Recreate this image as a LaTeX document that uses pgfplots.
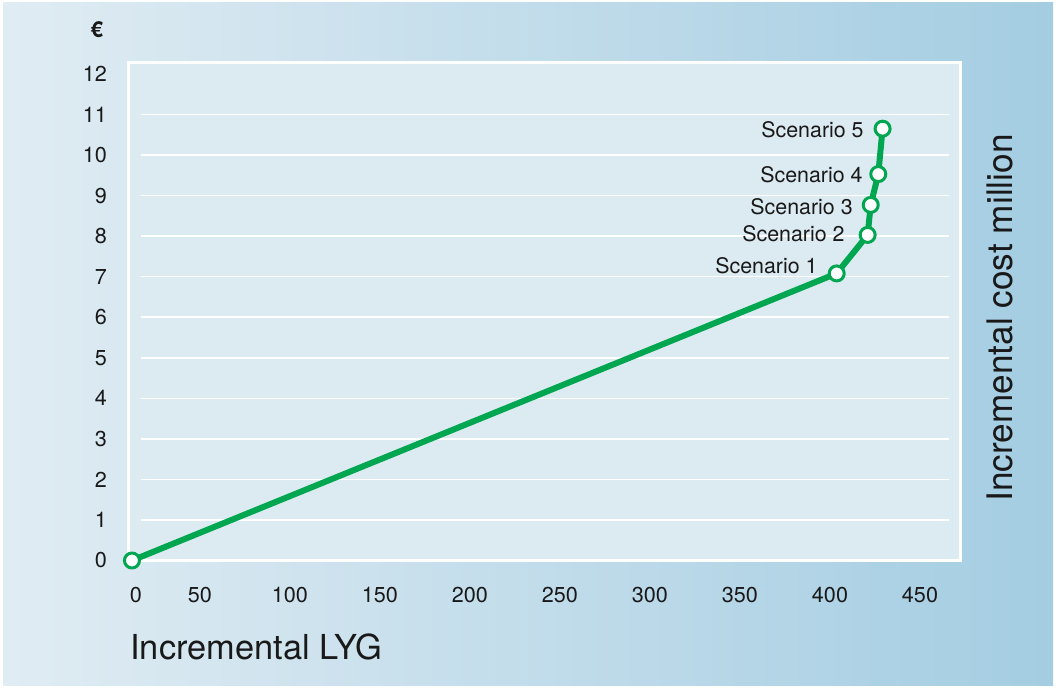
\documentclass[border=0pt]{standalone}
\usepackage{fontspec}
\setmainfont{TeX Gyre Heros}
\usepackage{pgfplots}
\pgfplotsset{compat=1.18}
\definecolor{bgL}{RGB}{224,236,243}
\definecolor{bgR}{RGB}{164,205,226}
\definecolor{plotbg}{RGB}{220,234,241}
\definecolor{lgreen}{RGB}{0,166,80}
\definecolor{txt}{RGB}{25,25,25}
\begin{document}
\begin{tikzpicture}[x=1pt,y=1pt]
\fill[white] (0,0) rectangle (528,344.5);
\shade[left color=bgL, right color=bgR] (1.5,1.5) rectangle (526.5,343);
\begin{axis}[
  at={(64pt,64.25pt)}, anchor=south west,
  scale only axis, width=416pt, height=248.75pt,
  xmin=-2.2, xmax=460, ymin=0, ymax=12.27,
  axis background/.style={fill=plotbg},
  axis line style={white, line width=1.5pt},
  major tick length=0pt,
  clip=false,
  /pgf/number format/assume math mode=true,
  xtick={50,100,...,450},
  extra x ticks={0},
  extra x tick style={xticklabel style={xshift=13pt}},
  ytick={0,1,...,12},
  xticklabel style={anchor=center, yshift=-17.25pt, xshift=-11pt, font=\fontsize{10.8}{12}\selectfont, text=txt},
  yticklabel style={anchor=east, xshift=-7pt, font=\fontsize{10.8}{12}\selectfont, text=txt},
]
\pgfplotsinvokeforeach{1,...,11}{\draw[white, line width=0.75pt] (axis cs:5,#1) -- (axis cs:454,#1);}
\addplot[lgreen, line width=3pt, line join=round, mark=*, mark size=3.75pt,
  mark options={fill=white, draw=lgreen, line width=1.5pt}] table {
x y
0 0
391.5 7.08
408.7 8.03
410.4 8.77
414.6 9.53
417.0 10.65
};
\node[anchor=east, inner sep=0pt, text=txt, font=\fontsize{10.7}{12}\selectfont] at (axis cs:381.1,7.26) {Scenario 1};
\node[anchor=east, inner sep=0pt, text=txt, font=\fontsize{10.7}{12}\selectfont] at (axis cs:396.1,8.05) {Scenario 2};
\node[anchor=east, inner sep=0pt, text=txt, font=\fontsize{10.7}{12}\selectfont] at (axis cs:400.6,8.72) {Scenario 3};
\node[anchor=east, inner sep=0pt, text=txt, font=\fontsize{10.7}{12}\selectfont] at (axis cs:406.1,9.51) {Scenario 4};
\node[anchor=east, inner sep=0pt, text=txt, font=\fontsize{10.7}{12}\selectfont] at (axis cs:406.7,10.62) {Scenario 5};
\end{axis}
\node[rotate=90, text=txt, font=\fontsize{17.6}{20}\selectfont] at (500,185.5) {Incremental cost million};
\node[anchor=base west, inner sep=0pt, text=txt, font=\fontsize{17.2}{19}\selectfont] at (65,14.5) {Incremental LYG};
\node[text=txt, font=\bfseries\fontsize{11}{12}\selectfont] at (48.5,329.5) {€};
\end{tikzpicture}
\end{document}
